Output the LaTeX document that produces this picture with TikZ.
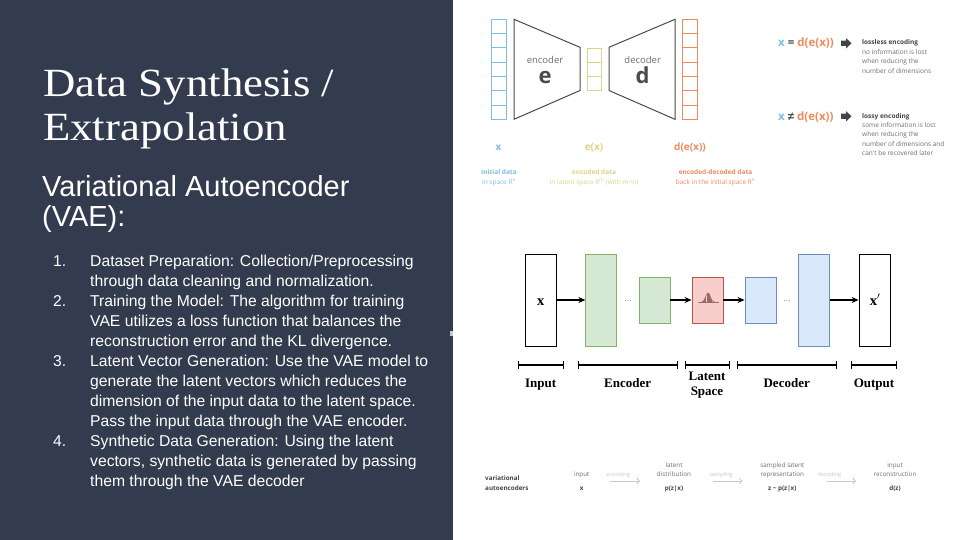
\documentclass[tikz,border=0pt]{standalone}
\usepackage{fontspec}
\usetikzlibrary{arrows.meta,calc}
\setmainfont{Liberation Sans}
\newfontfamily\titlef[FakeStretch=1.12]{Liberation Serif}
\newfontfamily\bodyf{Liberation Sans}
\newfontfamily\dgserif{Liberation Serif}
\newfontfamily\osf{Open Sans}
\definecolor{panel}{HTML}{333B4E}
\definecolor{cblue}{HTML}{7DBDE6}
\definecolor{cyel}{HTML}{DCD38A}
\definecolor{corg}{HTML}{EF8A5E}
\definecolor{trap}{HTML}{4A4A4A}
\definecolor{gfill}{HTML}{D5E8D4}
\definecolor{gdraw}{HTML}{82B366}
\definecolor{bfill}{HTML}{DAE8FC}
\definecolor{bdraw}{HTML}{6C8EBF}
\definecolor{rfill}{HTML}{F8CECC}
\definecolor{rdraw}{HTML}{B85450}
\definecolor{txtdark}{HTML}{444444}
\definecolor{txtmid}{HTML}{6E6E6E}
\definecolor{txtlight}{HTML}{C8C8C8}
\definecolor{gauss}{HTML}{9A6A6A}
\begin{document}
\begin{tikzpicture}[x=1pt,y=-1pt,
  lbl/.style={inner sep=0,anchor=base west},
  ctr/.style={inner sep=0,anchor=base},
  titletxt/.style={lbl,text=white,font=\titlef\fontsize{40}{40}\selectfont},
  subtxt/.style={lbl,text=white,font=\bodyf\fontsize{29}{29}\selectfont},
  listtxt/.style={lbl,text=white,font=\bodyf\fontsize{15.7}{15.7}\selectfont},
  layer/.style={draw,line width=0.9pt,inner sep=0,minimum width=31pt},
  arr/.style={line width=1.3pt,-{Stealth[length=7pt,width=6pt]}},
  brk/.style={line width=1.2pt,{Bar[width=8pt]}-{Bar[width=8pt]}},
  blab/.style={ctr,font=\dgserif\bfseries\fontsize{13}{13}\selectfont},
  col/.style={draw,line width=0.8pt,inner sep=0,minimum width=14.5pt},
  tiny/.style={ctr,font=\osf\fontsize{6.5}{6.5}\selectfont},
  tinyl/.style={lbl,font=\osf\fontsize{6.5}{6.5}\selectfont},
  vlab/.style={ctr,font=\osf\bfseries\fontsize{10}{10}\selectfont},
  strip/.style={ctr,font=\osf\fontsize{6.3}{6.3}\selectfont,text=txtmid},
  stripb/.style={ctr,font=\osf\bfseries\fontsize{6.3}{6.3}\selectfont,text=txtdark},
  sarr/.style={txtlight,line width=0.8pt,-{Straight Barb[length=3pt,width=6pt]}},
  blkarrow/.style={fill=txtdark}
]
\useasboundingbox (0,0) rectangle (960,540);
\fill[panel] (0,0) rectangle (453,540);
\fill[white] (453,0) rectangle (960,540);
\fill[txtlight] (450,331) rectangle (453,336);

% ---------- left panel text ----------
\node[titletxt] (t1) at (43,96.7) {Data Synthesis /};
\node[titletxt] (t2) at (43,140.2) {Extrapolation};
\node[subtxt] (s1) at (42,196.7) {Variational Autoencoder};
\node[subtxt] (s2) at (42,226) {(VAE):};

\node[listtxt] (n1) at (53,266) {1.};
\node[listtxt] (n2) at (53,306.1) {2.};
\node[listtxt] (n3) at (53,366.3) {3.};
\node[listtxt] (n4) at (53,446.5) {4.};
\node[listtxt] (l1) at (90,266) {Dataset Preparation: Collection/Preprocessing};
\node[listtxt] (l2) at (90,286.1) {through data cleaning and normalization.};
\node[listtxt] (l3) at (90,306.1) {Training the Model: The algorithm for training};
\node[listtxt] (l4) at (90,326.2) {VAE utilizes a loss function that balances the};
\node[listtxt] (l5) at (90,346.2) {reconstruction error and the KL divergence.};
\node[listtxt] (l6) at (90,366.3) {Latent Vector Generation: Use the VAE model to};
\node[listtxt] (l7) at (90,386.4) {generate the latent vectors which reduces the};
\node[listtxt] (l8) at (90,406.4) {dimension of the input data to the latent space.};
\node[listtxt] (l9) at (90,426.5) {Pass the input data through the VAE encoder.};
\node[listtxt] (l10) at (90,446.5) {Synthetic Data Generation: Using the latent};
\node[listtxt] (l11) at (90,466.6) {vectors, synthetic data is generated by passing};
\node[listtxt] (l12) at (90,486.7) {them through the VAE decoder};

% ---------- top autoencoder diagram ----------
\node[col,draw=cblue,minimum height=100pt] (xc) at (498.9,69.3) {};
\foreach \k in {1,...,6}{\draw[cblue,line width=0.8pt] ($(xc.north west)!\k/7!(xc.south west)$) -- ($(xc.north east)!\k/7!(xc.south east)$);}
\node[col,draw=cyel,minimum height=42.4pt] (ec) at (594.2,69.5) {};
\foreach \k in {1,2}{\draw[cyel,line width=0.8pt] ($(ec.north west)!\k/3!(ec.south west)$) -- ($(ec.north east)!\k/3!(ec.south east)$);}
\node[col,draw=corg,minimum height=100pt] (dc) at (690,69.3) {};
\foreach \k in {1,...,6}{\draw[corg,line width=0.8pt] ($(dc.north west)!\k/7!(dc.south west)$) -- ($(dc.north east)!\k/7!(dc.south east)$);}

\coordinate (ea) at (514,19.3); \coordinate (eb) at (580,47.3);
\coordinate (ec2) at (580,90.5); \coordinate (ed) at (514,119.3);
\draw[trap,line width=1pt,line join=miter] (ea) -- (eb) -- (ec2) -- (ed) -- cycle;
\coordinate (da) at (609,47.3); \coordinate (db) at (675,19.3);
\coordinate (dd) at (675,119.3); \coordinate (de) at (609,90.5);
\draw[trap,line width=1pt,line join=miter] (da) -- (db) -- (dd) -- (de) -- cycle;
\node[ctr,text=txtmid,font=\osf\fontsize{9.5}{9.5}\selectfont] (enct) at (545,63.5) {encoder};
\node[ctr,text=trap,font=\osf\bfseries\fontsize{22}{22}\selectfont] (enc) at (545,83.3) {e};
\node[ctr,text=txtmid,font=\osf\fontsize{9.5}{9.5}\selectfont] (dect) at (642.7,63.5) {decoder};
\node[ctr,text=trap,font=\osf\bfseries\fontsize{22}{22}\selectfont] (dec) at (642.7,83.3) {d};

\node[vlab,text=cblue] (xl) at (498.5,151) {x};
\node[vlab,text=cyel] (exl) at (594,151) {e(x)};
\node[vlab,text=corg] (dexl) at (690,151) {d(e(x))};
\node[tiny,text=cblue,font=\osf\bfseries\fontsize{6.5}{6.5}\selectfont] (i1) at (499,174.5) {initial data};
\node[tiny,text=cblue] (i2) at (499,184) {in space R\textsuperscript{n}};
\node[tiny,text=cyel,font=\osf\bfseries\fontsize{6.5}{6.5}\selectfont] (e1t) at (594,174.5) {encoded data};
\node[tiny,text=cyel] (e2t) at (594,184) {in latent space R\textsuperscript{m} (with m<n)};
\node[tiny,text=corg,font=\osf\bfseries\fontsize{6.5}{6.5}\selectfont] (d1t) at (715.5,174.5) {encoded-decoded data};
\node[tiny,text=corg] (d2t) at (715.5,184) {back in the initial space R\textsuperscript{n}};

% right notes
\node[lbl,font=\osf\bfseries\fontsize{11.5}{11.5}\selectfont] (eq1) at (778,47) {\textcolor{cblue}{x} \textcolor{trap}{=} \textcolor{corg}{d(e(x))}};
\coordinate (ar1) at (846,43.3);
\fill[blkarrow] (ar1) +(-5,-2.6) -- +(0,-2.6) -- +(0,-5.2) -- +(5.5,0) -- +(0,5.2) -- +(0,2.6) -- +(-5,2.6) -- cycle;
\node[tinyl,text=txtdark,font=\osf\bfseries\fontsize{6.5}{6.5}\selectfont] (ll1) at (862,45) {lossless encoding};
\node[tinyl,text=txtmid] (ll2) at (862,54.4) {no information is lost};
\node[tinyl,text=txtmid] (ll3) at (862,63.8) {when reducing the};
\node[tinyl,text=txtmid] (ll4) at (862,73.2) {number of dimensions};
\node[lbl,font=\osf\bfseries\fontsize{11.5}{11.5}\selectfont] (eq2) at (778,120.3) {\textcolor{cblue}{x} \textcolor{trap}{{\bodyf ≠}} \textcolor{corg}{d(e(x))}};
\coordinate (ar2) at (846,116.3);
\fill[blkarrow] (ar2) +(-5,-2.6) -- +(0,-2.6) -- +(0,-5.2) -- +(5.5,0) -- +(0,5.2) -- +(0,2.6) -- +(-5,2.6) -- cycle;
\node[tinyl,text=txtdark,font=\osf\bfseries\fontsize{6.5}{6.5}\selectfont] (ly1) at (862,118.3) {lossy encoding};
\node[tinyl,text=txtmid] (ly2) at (862,127.7) {some information is lost};
\node[tinyl,text=txtmid] (ly3) at (862,137) {when reducing the};
\node[tinyl,text=txtmid] (ly4) at (862,146.4) {number of dimensions and};
\node[tinyl,text=txtmid] (ly5) at (862,155.7) {can't be recovered later};

% ---------- middle VAE diagram ----------
\node[layer,minimum height=92pt] (in) at (540.8,300) {};
\node[layer,draw=gdraw,fill=gfill,minimum height=92pt] (e1) at (601.3,300) {};
\node[layer,draw=gdraw,fill=gfill,minimum height=46pt] (e2) at (654.5,300) {};
\node[layer,draw=rdraw,fill=rfill,minimum height=46pt] (lat) at (707.5,300) {};
\node[layer,draw=bdraw,fill=bfill,minimum height=46pt] (d1) at (760.5,300) {};
\node[layer,draw=bdraw,fill=bfill,minimum height=92pt] (d2) at (813.8,300) {};
\node[layer,minimum height=92pt] (out) at (874.5,300) {};
\node[ctr,font=\dgserif\bfseries\fontsize{14.5}{14.5}\selectfont] (xin) at (540.8,305) {x};
\node[ctr,font=\dgserif\bfseries\fontsize{14.5}{14.5}\selectfont] (xout) at (875,305) {x\textsuperscript{$\prime$}};
\node[ctr,font=\bodyf\fontsize{8}{8}\selectfont,text=txtmid] (dots1) at (628,301.5) {…};
\node[ctr,font=\bodyf\fontsize{8}{8}\selectfont,text=txtmid] (dots2) at (787,301.5) {…};
\draw[arr] (in.east) -- (e1.west);
\draw[arr] (e2.east) -- (lat.west);
\draw[arr] (lat.east) -- (d1.west);
\draw[arr] (d2.east) -- (out.west);
% gaussian in latent box
\draw[gauss,line width=0.5pt] (698.5,302.3) -- (718.5,302.3);
\foreach \u in {-4.8,-3.6,...,4.9}{\draw[gauss,line width=0.3pt] (708+\u,302.3) -- (708+\u,{302.3-9.5*exp(-1*(\u/3.3)*(\u/3.3))});}
\draw[gauss,line width=0.5pt] plot[domain=-10:10,samples=41,smooth] (708+\x,{302.3-9.5*exp(-1*(\x/3.3)*(\x/3.3))});

% brackets
\coordinate (b1a) at (518,365); \coordinate (b1b) at (564,365);
\coordinate (b2a) at (578,365); \coordinate (b2b) at (677.7,365);
\coordinate (b3a) at (685,365); \coordinate (b3b) at (730,365);
\coordinate (b4a) at (737,365); \coordinate (b4b) at (836.7,365);
\coordinate (b5a) at (851,365); \coordinate (b5b) at (897.3,365);
\draw[brk] (b1a) -- (b1b);
\draw[brk] (b2a) -- (b2b);
\draw[brk] (b3a) -- (b3b);
\draw[brk] (b4a) -- (b4b);
\draw[brk] (b5a) -- (b5b);
\node[blab] (lin) at (540.7,387.6) {Input};
\node[blab] (lenc) at (627.7,387.6) {Encoder};
\node[blab] (llat1) at (707,380) {Latent};
\node[blab] (llat2) at (707,395.5) {Space};
\node[blab] (ldec) at (786.7,387.6) {Decoder};
\node[blab] (lout) at (874,387.6) {Output};

% ---------- bottom strip ----------
\node[lbl,font=\osf\bfseries\fontsize{6.3}{6.3}\selectfont,text=txtdark] (va1) at (485,480.5) {variational};
\node[lbl,font=\osf\bfseries\fontsize{6.3}{6.3}\selectfont,text=txtdark] (va2) at (485,490) {autoencoders};
\node[strip] (p1) at (581.7,476.5) {input};
\node[stripb] (p1b) at (581.7,490) {x};
\node[strip] (p2a) at (674,467.3) {latent};
\node[strip] (p2b) at (674,476.5) {distribution};
\node[stripb] (p2c) at (674,490) {p(z|x)};
\node[strip] (p3a) at (782.3,467.3) {sampled latent};
\node[strip] (p3b) at (782.3,476.5) {representation};
\node[stripb] (p3c) at (782.3,490) {z \textasciitilde{} p(z|x)};
\node[strip] (p4a) at (895,467.3) {input};
\node[strip] (p4b) at (895,476.5) {reconstruction};
\node[stripb] (p4c) at (895,490) {d(z)};
\coordinate (a1s) at (610,481); \coordinate (a1e) at (640,481);
\coordinate (a2s) at (713,481); \coordinate (a2e) at (742.7,481);
\coordinate (a3s) at (826.7,481); \coordinate (a3e) at (856,481);
\draw[sarr] (a1s) -- (a1e);
\draw[sarr] (a2s) -- (a2e);
\draw[sarr] (a3s) -- (a3e);
\node[strip,text=txtlight,font=\osf\fontsize{5.5}{5.5}\selectfont] (w1) at (618,476) {encoding};
\node[strip,text=txtlight,font=\osf\fontsize{5.5}{5.5}\selectfont] (w2) at (721,476) {sampling};
\node[strip,text=txtlight,font=\osf\fontsize{5.5}{5.5}\selectfont] (w3) at (829.3,476) {decoding};
\end{tikzpicture}
\end{document}
